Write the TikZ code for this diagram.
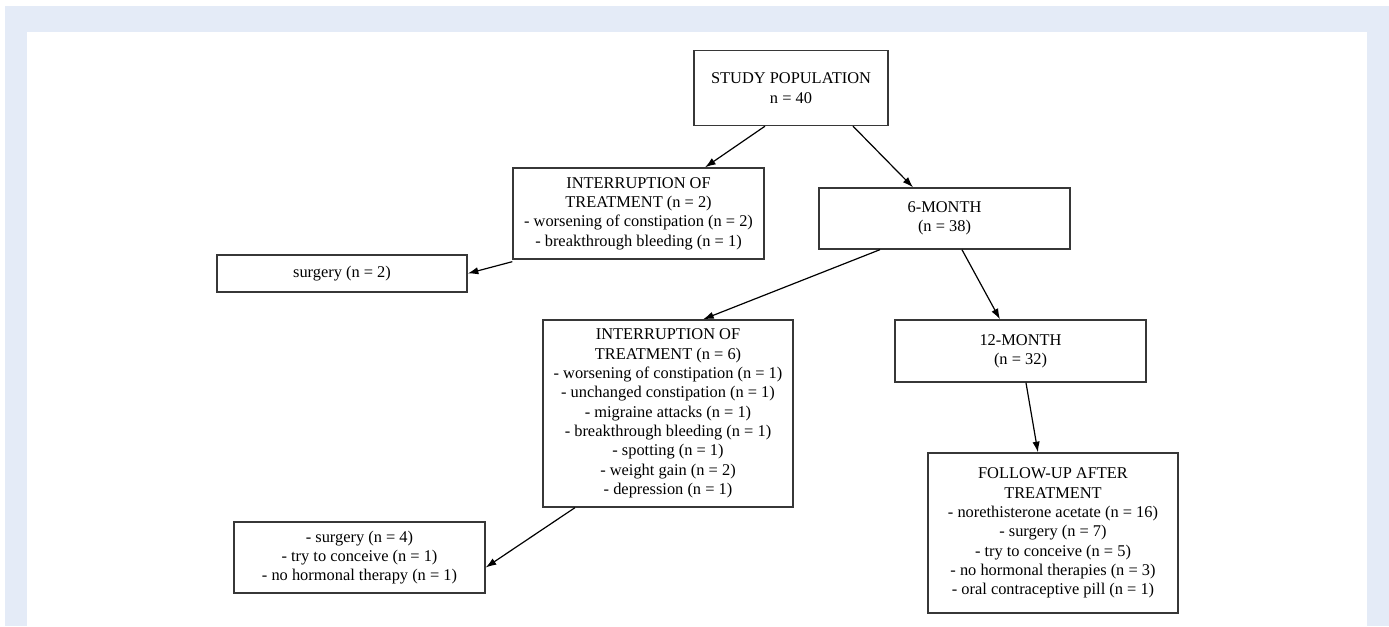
\documentclass[tikz,border=0pt]{standalone}
\usepackage{fontspec}
\setmainfont{Liberation Serif}
\usepackage{xcolor}
\usetikzlibrary{arrows.meta}

\definecolor{pagebg}{RGB}{228,235,247}
\tikzset{
  flowbox/.style={draw={rgb, 255:red, 55; green, 55; blue, 55}, line width=1pt, fill=white, align=center, inner sep=1pt, font=\fontsize{12.3}{14.5}\selectfont},
  flowarrow/.style={draw=black, line width=0.9pt, -{Latex[length=8pt,width=5.5pt]}}
}

\begin{document}
\begin{tikzpicture}[x=0.75pt,y=0.75pt,yscale=-1,xscale=1]
\useasboundingbox (0,0) rectangle (1389,626);

%Background panel
\fill [white] (0,0) rectangle (1389,626);
\fill [pagebg] (5,6) rectangle (1389,626);
\fill [white] (27,32) rectangle (1367,626);

% Text Node
\draw (791,88) node [flowbox, minimum width=145.5pt, minimum height=56.25pt] (study) {STUDY POPULATION\\n = 40};
% Text Node
\draw (638.5,213.5) node [flowbox, minimum width=188.25pt, minimum height=68.25pt] (stopfirst) {INTERRUPTION OF\\TREATMENT (n = 2)\\- worsening of constipation (n = 2)\\- breakthrough bleeding (n = 1)};
% Text Node
\draw (944.5,218.5) node [flowbox, minimum width=188.25pt, minimum height=45.75pt] (sixmonth) {6-MONTH\\(n = 38)};
% Text Node
\draw (342,273.5) node [flowbox, minimum width=187.5pt, minimum height=27.75pt] (surgeryfirst) {surgery (n = 2)};
% Text Node
\draw (668,413.5) node [flowbox, minimum width=187.5pt, minimum height=140.25pt] (stopsecond) {INTERRUPTION OF\\TREATMENT (n = 6)\\- worsening of constipation (n = 1)\\- unchanged constipation (n = 1)\\- migraine attacks (n = 1)\\- breakthrough bleeding (n = 1)\\- spotting (n = 1)\\- weight gain (n = 2)\\- depression (n = 1)};
% Text Node
\draw (1020.5,351) node [flowbox, minimum width=188.25pt, minimum height=46.5pt] (twelvemonth) {12-MONTH\\(n = 32)};
% Text Node
\draw (359.5,557.5) node [flowbox, minimum width=188.25pt, minimum height=53.25pt] (afterstop) {- surgery (n = 4)\\- try to conceive (n = 1)\\- no hormonal therapy (n = 1)};
% Text Node
\draw (1053,533) node [flowbox, minimum width=187.5pt, minimum height=120pt] (followup) {FOLLOW-UP AFTER\\TREATMENT\\- norethisterone acetate (n = 16)\\- surgery (n = 7)\\- try to conceive (n = 5)\\- no hormonal therapies (n = 3)\\- oral contraceptive pill (n = 1)};

%Straight Lines
\draw [flowarrow] ([xshift=-19.5pt]study.south) -- ([xshift=49.9pt]stopfirst.north);
\draw [flowarrow] ([xshift=46.5pt]study.south) -- ([xshift=-23.6pt]sixmonth.north);
\draw [flowarrow] ([yshift=1.5pt]stopfirst.south west) -- (surgeryfirst.east);
\draw [flowarrow] ([xshift=-48.4pt]sixmonth.south) -- ([xshift=26.3pt]stopsecond.north);
\draw [flowarrow] ([xshift=13.1pt]sixmonth.south) -- ([xshift=-15.4pt]twelvemonth.north);
\draw [flowarrow] ([xshift=4.1pt]twelvemonth.south) -- ([xshift=-11.3pt]followup.north);
\draw [flowarrow] ([xshift=-69.8pt]stopsecond.south) -- ([yshift=7.5pt]afterstop.east);

\end{tikzpicture}
\end{document}
